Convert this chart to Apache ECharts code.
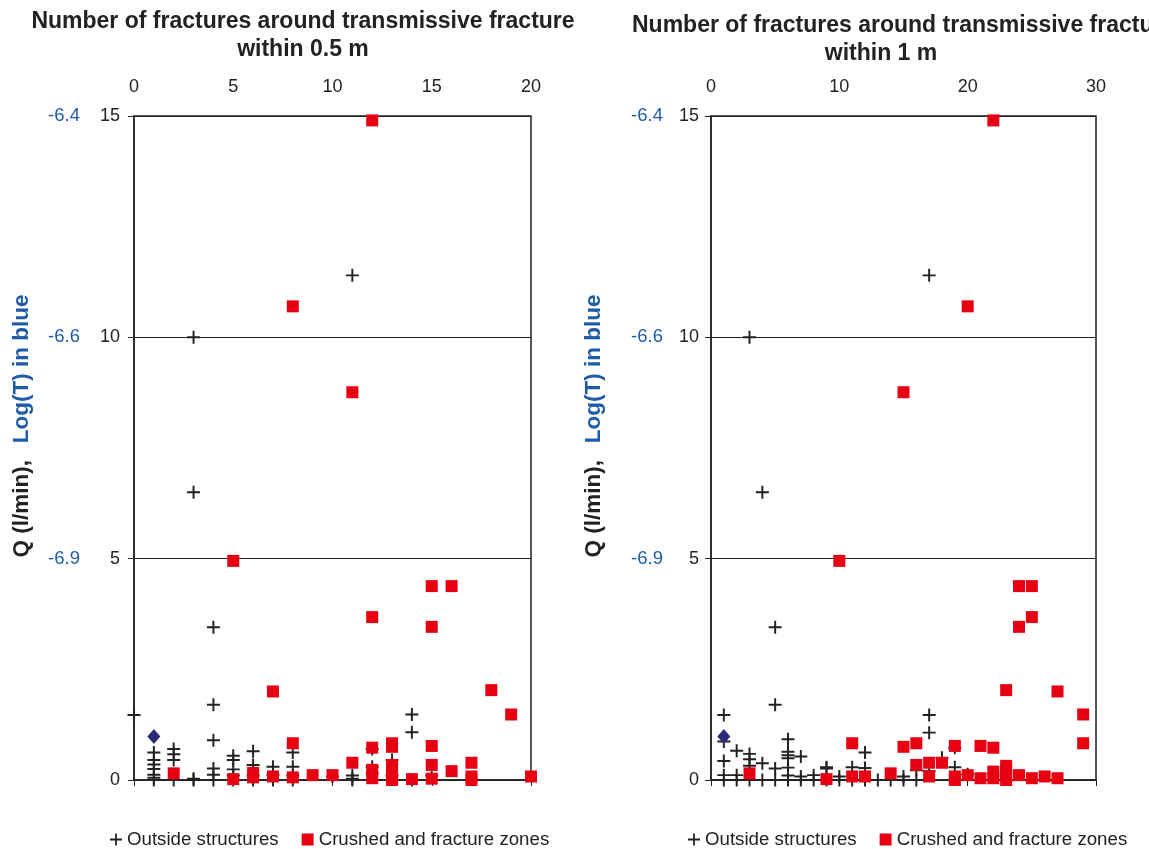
<!DOCTYPE html>
<html>
<head>
<meta charset="utf-8">
<script src="https://cdn.jsdelivr.net/npm/echarts@6/dist/echarts.min.js"></script>
<style>
  html, body { margin: 0; padding: 0; background: #fff; }
  #chart { width: 1149px; height: 849px; }
</style>
</head>
<body>
<div id="chart"></div>
<script>
// Flow (Q, l/min) against the number of fractures near each transmissive fracture.
// Points are [fracture count, Q].

// within 0.5 m
const outsideHalf = [
  [0,1.47],
  [1,0.62],[1,0.45],[1,0.35],[1,0.25],[1,0.12],[1,0.05],[1,0],
  [2,0.7],[2,0.58],[2,0.45],[2,0],
  [3,10],[3,6.5],[3,0.03],[3,0],
  [4,3.45],[4,1.7],[4,0.9],[4,0.26],[4,0.12],[4,0],
  [5,0.55],[5,0.45],[5,0.24],[5,0.1],[5,0],
  [6,0.65],[6,0.34],[6,0.1],[6,0],
  [7,0.3],[7,0.12],[7,0],
  [8,0.62],[8,0.3],[8,0.1],[8,0],
  [10,0.08],
  [11,11.4],[11,0.1],[11,0.03],[11,0],
  [12,0.7],[12,0.3],[12,0.15],
  [13,0.45],[13,0.1],
  [14,1.48],[14,1.08],[14,0],
  [15,0.1]
];
const crushedHalf = [
  [2,0.15],
  [5,4.95],[5,0.02],
  [6,0.16],[6,0.06],
  [7,2.0],[7,0.08],
  [8,10.7],[8,0.83],[8,0.06],
  [9,0.11],[10,0.11],
  [11,8.76],[11,0.39],
  [12,14.9],[12,3.68],[12,0.73],[12,0.23],[12,0.04],
  [13,0.83],[13,0.75],[13,0.34],[13,0.27],[13,0.08],[13,0],
  [14,0.02],
  [15,4.38],[15,3.46],[15,0.77],[15,0.34],[15,0.03],
  [16,4.38],[16,0.2],
  [17,0.39],[17,0.08],[17,0],
  [18,2.03],[19,1.48],[20,0.08]
];

// within 1 m
const outsideOne = [
  [1,1.47],[1,0.87],[1,0.43],[1,0.11],[1,0],
  [2,0.66],[2,0.11],[2,0],
  [3,10],[3,0.59],[3,0.47],[3,0.32],[3,0],
  [4,6.5],[4,0.38],[4,0],
  [5,3.45],[5,1.7],[5,0.26],[5,0],
  [6,0.92],[6,0.64],[6,0.56],[6,0.49],[6,0.28],[6,0.1],[6,0],
  [7,0.53],[7,0.08],[7,0],
  [8,0.11],[8,0],
  [9,0.29],[9,0.26],[9,0],
  [10,0.08],[10,0],
  [11,0.29],[11,0],
  [12,0.62],[12,0.27],[12,0],
  [13,0],[14,0],[15,0.08],[15,0],
  [16,0.22],[16,0],
  [17,11.4],[17,1.47],[17,1.07],[17,0.2],
  [18,0.5],
  [19,0.73],[19,0.29],
  [20,0.13]
];
const crushedOne = [
  [3,0.15],
  [9,0.02],
  [10,4.95],
  [11,0.83],[11,0.08],
  [12,0.08],
  [14,0.15],
  [15,8.76],[15,0.75],
  [16,0.83],[16,0.34],
  [17,0.39],[17,0.08],
  [18,0.39],
  [19,0.77],[19,0.08],[19,0],
  [20,10.7],[20,0.11],
  [21,0.77],[21,0.04],
  [22,14.9],[22,0.73],[22,0.19],[22,0.04],
  [23,2.03],[23,0.32],[23,0.19],[23,0.08],[23,0],
  [24,4.38],[24,3.46],[24,0.11],
  [25,4.38],[25,3.68],[25,0.04],
  [26,0.08],
  [27,2.0],[27,0.04],
  [29,1.48],[29,0.83]
];

// single highlighted point shared by both panels
const highlightPoint = [[1,0.98]];

// Q ticks and the matching log(T) labels shown in blue
const qTicks = [0, 5, 10, 15];
const logTLabels = ['', '-6.9', '-6.6', '-6.4'];

const seriesNames = ['Outside structures', 'Crushed and fracture zones'];
const panelTitles = ['Number of fractures around transmissive fracture', 'within 0.5 m', 'within 1 m'];
const yTitleQ = 'Q (l/min),';
const yTitleT = 'Log(T) in blue';

const INK = '#222';
const BLUE = '#1f5ca8';
const RED = '#e60012';
const NAVY = '#2b2a78';
const FONT = 'Liberation Sans, Arial, sans-serif';
const CROSS = 'path://M8.5,0H11.5V8.5H20V11.5H11.5V20H8.5V11.5H0V8.5H8.5Z';

const chart = echarts.init(document.getElementById('chart'), null, { renderer: 'canvas' });

function xAxis(gridIndex, max, interval) {
  return {
    gridIndex, type: 'value', position: 'top', min: 0, max, interval,
    axisLine: { show: true, lineStyle: { color: INK, width: 1.5 } },
    axisTick: { show: true, inside: true, length: 6, lineStyle: { color: INK, width: 1 } },
    axisLabel: { color: INK, fontSize: 18, fontFamily: FONT, margin: 20 },
    splitLine: { show: false }
  };
}
function yAxisQ(gridIndex, margin) {
  return {
    gridIndex, type: 'value', min: 0, max: 15, interval: 5,
    axisLine: { show: true, lineStyle: { color: INK, width: 1.5 } },
    axisTick: { show: true, length: 6, lineStyle: { color: INK, width: 1 } },
    axisLabel: { color: INK, fontSize: 18, fontFamily: FONT, margin },
    splitLine: { show: true, lineStyle: { color: INK, width: 1 } }
  };
}
function yAxisT(gridIndex, offset) {
  return {
    gridIndex, type: 'value', min: 0, max: 15, interval: 5, position: 'left', offset,
    axisLine: { show: false }, axisTick: { show: false }, splitLine: { show: false },
    axisLabel: {
      color: BLUE, fontSize: 18.5, fontFamily: FONT, margin: 8,
      formatter: v => logTLabels[qTicks.indexOf(v)] || ''
    }
  };
}
function crossSeries(name, data, xi, yi) {
  return {
    name, type: 'scatter', data, xAxisIndex: xi, yAxisIndex: yi, clip: false,
    symbol: CROSS, symbolSize: 13, itemStyle: { color: INK, opacity: 1 }, z: 2
  };
}
function squareSeries(name, data, xi, yi) {
  return {
    name, type: 'scatter', data, xAxisIndex: xi, yAxisIndex: yi, clip: false,
    symbol: 'rect', symbolSize: 12, itemStyle: { color: RED, opacity: 1 }, z: 3
  };
}
function diamondSeries(data, xi, yi) {
  return {
    name: 'highlight', type: 'scatter', data, xAxisIndex: xi, yAxisIndex: yi, clip: false,
    symbol: 'diamond', symbolSize: [13, 15], itemStyle: { color: NAVY, opacity: 1 }, z: 4
  };
}
function yTitle(x) {
  return {
    type: 'text', x, y: 426, rotation: Math.PI / 2,
    style: {
      text: '{q|' + yTitleQ + '}     {t|' + yTitleT + '}',
      align: 'center', verticalAlign: 'middle',
      rich: {
        q: { fill: INK, fontSize: 22.5, fontWeight: 'bold', fontFamily: FONT },
        t: { fill: BLUE, fontSize: 22.5, fontWeight: 'bold', fontFamily: FONT }
      }
    }
  };
}
const titleFont = { color: INK, fontSize: 23, fontWeight: 'bold', fontFamily: FONT };
const legendBase = {
  orient: 'horizontal', top: 825, itemWidth: 12, itemHeight: 12, itemGap: 23,
  textStyle: { color: INK, fontSize: 18.7, fontFamily: FONT },
  selectedMode: false, data: seriesNames
};

chart.setOption({
  backgroundColor: '#fff',
  animation: false,
  title: [
    { text: panelTitles[0], left: 298, top: 5, textAlign: 'center', textStyle: titleFont },
    { text: panelTitles[1], left: 298, top: 33, textAlign: 'center', textStyle: titleFont },
    { text: panelTitles[0], left: 627, top: 9, textStyle: titleFont },
    { text: panelTitles[2], left: 876, top: 37, textAlign: 'center', textStyle: titleFont }
  ],
  legend: [
    Object.assign({ left: 105 }, legendBase),
    Object.assign({ left: 683 }, legendBase)
  ],
  grid: [
    { left: 134, top: 116, width: 397, height: 664, show: true, borderColor: INK, borderWidth: 1.5, backgroundColor: '#fff' },
    { left: 711, top: 116, width: 385, height: 664, show: true, borderColor: INK, borderWidth: 1.5, backgroundColor: '#fff' }
  ],
  xAxis: [ xAxis(0, 20, 5), xAxis(1, 30, 10) ],
  yAxis: [ yAxisQ(0, 14), yAxisT(0, 46), yAxisQ(1, 12), yAxisT(1, 40) ],
  graphic: [ yTitle(22), yTitle(594) ],
  series: [
    crossSeries(seriesNames[0], outsideHalf, 0, 0),
    squareSeries(seriesNames[1], crushedHalf, 0, 0),
    diamondSeries(highlightPoint, 0, 0),
    crossSeries(seriesNames[0], outsideOne, 1, 2),
    squareSeries(seriesNames[1], crushedOne, 1, 2),
    diamondSeries(highlightPoint, 1, 2)
  ]
});
</script>
</body>
</html>
